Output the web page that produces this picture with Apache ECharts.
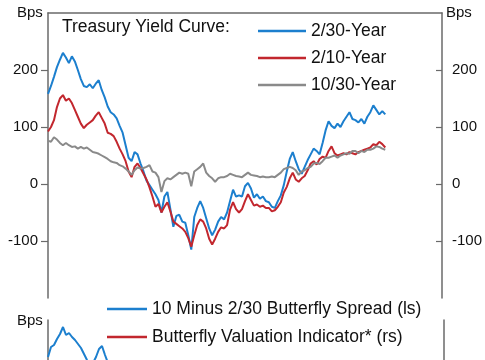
<!DOCTYPE html>
<html><head><meta charset="utf-8">
<script src="https://cdn.jsdelivr.net/npm/echarts@6/dist/echarts.min.js"></script>
<style>html,body{margin:0;padding:0;background:#fff}#c{width:485px;height:360px}</style>
</head><body><div id="c"></div>
<script>
// Top panel: Treasury yield curve spreads (bps), one value per equal time step
const spread2s30s = [158,172,188,205,218,230,222,212,224,215,200,184,172,170,175,168,176,182,165,152,136,126,122,115,102,90,68,46,40,56,52,36,22,6,-2,-10,-18,-28,-50,-22,-14,-44,-75,-56,-54,-66,-68,-90,-115,-58,-42,-30,-42,-60,-78,-90,-80,-66,-58,-62,-50,-30,-10,-22,-20,-22,-4,2,-8,-24,-18,-26,-22,-30,-32,-40,-42,-30,-20,-2,22,44,56,40,26,18,30,42,52,62,58,52,72,94,110,102,98,106,100,110,118,126,114,112,108,114,106,118,126,138,130,122,128,122];
const spread2s10s = [92,100,112,135,150,156,146,150,142,130,118,106,98,104,108,112,120,126,116,106,90,88,84,74,62,52,40,22,12,30,36,28,18,8,-6,-22,-40,-35,-50,-40,-32,-48,-66,-70,-74,-78,-84,-95,-110,-90,-72,-62,-66,-78,-96,-106,-96,-84,-76,-78,-72,-45,-32,-44,-50,-44,-30,-18,-28,-38,-36,-40,-38,-42,-42,-48,-46,-40,-32,-15,-5,10,20,8,4,10,14,24,36,40,34,44,48,46,58,66,54,50,52,54,52,56,54,52,56,58,60,62,64,70,68,74,70,64];
const spread10s30s = [76,74,82,78,72,68,72,68,65,66,62,65,62,64,60,56,55,53,50,47,44,40,38,37,33,31,27,22,16,24,29,27,28,30,33,22,20,12,-14,5,10,8,12,16,20,18,20,18,-4,22,26,30,36,20,14,10,4,10,12,12,14,18,16,14,13,12,16,20,16,15,14,12,13,12,12,13,12,16,20,26,28,30,28,24,16,22,24,28,30,36,37,35,40,46,46,48,50,46,50,52,54,53,58,58,54,58,56,60,60,62,66,65,62,60];
// Bottom panel (only the part visible in the picture)
const butterflySpread = [21.5,26.5,27.5,30.5,33,36.5,32.5,33.5,31.5,30,28,26,23,20,17.5,18.5,21.5,25.5,27,22.5,18.5,15.5];
const butterflyValuation = [];
const topTicks = [-100, 0, 100, 200];
const topNames = ['2/30-Year', '2/10-Year', '10/30-Year'];
const bottomNames = ['10 Minus 2/30 Butterfly Spread (ls)', 'Butterfly Valuation Indicator* (rs)'];

const BLUE = '#1C7FCE', RED = '#C2272E', GRAY = '#8A8A8A', AX = '#6a6a6a';
const FONT = '"Liberation Sans", Arial, sans-serif';
const pairs = arr => arr.map((v, i) => [i, v]);

const chart = echarts.init(document.getElementById('c'), null, {renderer: 'canvas'});
const yTop = (pos) => ({
  gridIndex: 0, type: 'value', position: pos, min: -200, max: 300, interval: 100,
  axisLine: {show: true, onZero: false, lineStyle: {color: AX, width: 1.5}},
  axisTick: {show: true, inside: pos === 'right', length: pos === 'right' ? 6 : 7, customValues: topTicks, lineStyle: {color: AX, width: 1.2}},
  axisLabel: {show: true, customValues: topTicks, margin: 10, color: '#111', fontSize: 15, fontFamily: FONT},
  splitLine: {show: false}
});
const yBot = (pos) => ({
  gridIndex: 1, type: 'value', position: pos, min: 20, max: 40,
  axisLine: {show: true, onZero: false, lineStyle: {color: AX, width: 1.5}},
  axisTick: {show: false}, axisLabel: {show: false}, splitLine: {show: false}
});
const lineSeries = (name, data, color, xi, yi) => ({
  name, type: 'line', xAxisIndex: xi, yAxisIndex: yi, data: pairs(data),
  showSymbol: false, symbol: 'none', smooth: false, animation: false, clip: true,
  lineStyle: {color, width: 2}, itemStyle: {color}
});

chart.setOption({
  animation: false,
  backgroundColor: '#fff',
  textStyle: {fontFamily: FONT},
  grid: [
    {left: 48, right: 41, top: 13, height: 285},
    {left: 48, right: 41, top: 320, bottom: 0}
  ],
  xAxis: [
    {gridIndex: 0, type: 'value', min: 0, max: 132, position: 'top',
     axisLine: {show: true, onZero: false, lineStyle: {color: AX, width: 1.5}},
     axisTick: {show: false}, axisLabel: {show: false}, splitLine: {show: false}},
    {gridIndex: 1, type: 'value', min: 0, max: 132,
     axisLine: {show: false}, axisTick: {show: false}, axisLabel: {show: false}, splitLine: {show: false}}
  ],
  yAxis: [yTop('left'), yTop('right'), yBot('left'), yBot('right')],
  legend: [
    {data: topNames, orient: 'vertical', left: 258, top: 22, padding: 0, itemWidth: 48, itemHeight: 2.5, icon: 'rect',
     itemGap: 9, textStyle: {fontSize: 17.5, color: '#111', fontFamily: FONT, lineHeight: 18}},
    {data: bottomNames, orient: 'vertical', left: 107, top: 300, padding: 0, itemWidth: 40, itemHeight: 2.5, icon: 'rect',
     itemGap: 10, textStyle: {fontSize: 17.5, color: '#111', fontFamily: FONT, lineHeight: 18}}
  ],
  graphic: [
    {type: 'text', left: 17, top: 5, style: {text: 'Bps', fontSize: 15, fill: '#111', fontFamily: FONT}},
    {type: 'text', left: 446, top: 5, style: {text: 'Bps', fontSize: 15, fill: '#111', fontFamily: FONT}},
    {type: 'text', left: 17, top: 313, style: {text: 'Bps', fontSize: 15, fill: '#111', fontFamily: FONT}},
    {type: 'text', left: 62, top: 18, style: {text: 'Treasury Yield Curve:', fontSize: 17.5, fill: '#111', fontFamily: FONT}}
  ],
  series: [
    lineSeries(topNames[0], spread2s30s, BLUE, 0, 0),
    lineSeries(topNames[1], spread2s10s, RED, 0, 0),
    lineSeries(topNames[2], spread10s30s, GRAY, 0, 0),
    lineSeries(bottomNames[0], butterflySpread, BLUE, 1, 2),
    lineSeries(bottomNames[1], butterflyValuation, RED, 1, 3)
  ]
});
</script></body></html>
